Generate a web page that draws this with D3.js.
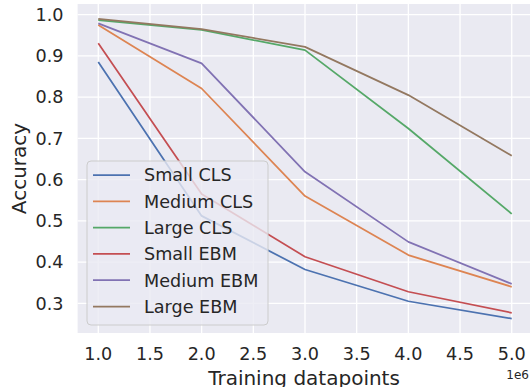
<!DOCTYPE html>
<meta charset="utf-8">
<title>Accuracy vs training datapoints</title>
<style>
    body {
        margin: 0;
        background: #fff;
    }

    text {
        font-family: "DejaVu Sans", sans-serif;
        fill: #262626;
    }
</style>
<body>
<script src="https://cdn.jsdelivr.net/npm/d3@7"></script>
<script>
    var datapoints = [1e6, 2e6, 3e6, 4e6, 5e6];
    var seriesNames = ["Small CLS", "Medium CLS", "Large CLS", "Small EBM", "Medium EBM", "Large EBM"];
    var smallCls = [0.885, 0.512, 0.382, 0.305, 0.263];
    var mediumCls = [0.975, 0.821, 0.560, 0.417, 0.340];
    var largeCls = [0.987, 0.963, 0.914, 0.724, 0.517];
    var smallEbm = [0.931, 0.565, 0.413, 0.328, 0.277];
    var mediumEbm = [0.979, 0.882, 0.619, 0.449, 0.347];
    var largeEbm = [0.990, 0.965, 0.922, 0.805, 0.658];
    var colors = ["#4c72b0", "#dd8452", "#55a868", "#c44e52", "#8172b3", "#937860"];
    var xTicks = [1e6, 1.5e6, 2e6, 2.5e6, 3e6, 3.5e6, 4e6, 4.5e6, 5e6];
    var yTicks = [0.3, 0.4, 0.5, 0.6, 0.7, 0.8, 0.9, 1.0];

    var series = [smallCls, mediumCls, largeCls, smallEbm, mediumEbm, largeEbm];

    var W = 530, H = 387;
    var fs = 17.6; // ticks + legend
    var labelFs = 20; // axis labels

    var x = d3.scaleLinear().domain([0.8e6, 5.2e6]).range([77.6, 532.4]);
    var y = d3.scaleLinear().domain([0.3, 1.0]).range([303.3, 14.7]);
    var plotTop = 4, plotBottom = 333;

    var svg = d3.select("body").append("svg")
        .attr("width", W)
        .attr("height", H);

    svg.append("rect")
        .attr("x", x.range()[0])
        .attr("y", plotTop)
        .attr("width", x.range()[1] - x.range()[0])
        .attr("height", plotBottom - plotTop)
        .attr("fill", "#eaeaf2");

    // grid
    svg.append("g").selectAll("line")
        .data(xTicks)
        .enter()
        .append("line")
        .attr("x1", function (d) { return x(d); })
        .attr("x2", function (d) { return x(d); })
        .attr("y1", plotTop)
        .attr("y2", plotBottom)
        .attr("stroke", "#fff")
        .attr("stroke-width", 1.3);

    svg.append("g").selectAll("line")
        .data(yTicks)
        .enter()
        .append("line")
        .attr("x1", x.range()[0])
        .attr("x2", x.range()[1])
        .attr("y1", function (d) { return y(d); })
        .attr("y2", function (d) { return y(d); })
        .attr("stroke", "#fff")
        .attr("stroke-width", 1.3);

    // tick labels
    svg.append("g").selectAll("text")
        .data(xTicks)
        .enter()
        .append("text")
        .attr("x", function (d) { return x(d); })
        .attr("y", 360)
        .attr("text-anchor", "middle")
        .style("font-size", fs + "px")
        .text(function (d) { return (d / 1e6).toFixed(1); });

    svg.append("g").selectAll("text")
        .data(yTicks)
        .enter()
        .append("text")
        .attr("x", 63.5)
        .attr("y", function (d) { return y(d); })
        .attr("dy", "0.36em")
        .attr("text-anchor", "end")
        .style("font-size", fs + "px")
        .text(function (d) { return d.toFixed(1); });

    svg.append("text")
        .attr("x", 529)
        .attr("y", 379)
        .attr("text-anchor", "end")
        .style("font-size", "12px")
        .text("1e6");

    svg.append("text")
        .attr("x", x(3e6) - 1)
        .attr("y", 384.5)
        .attr("text-anchor", "middle")
        .style("font-size", labelFs + "px")
        .text("Training datapoints");

    svg.append("text")
        .attr("transform", "translate(25.5,168.5) rotate(-90)")
        .attr("text-anchor", "middle")
        .style("font-size", labelFs + "px")
        .text("Accuracy");

    // lines
    var line = d3.line()
        .x(function (d, i) { return x(datapoints[i]); })
        .y(function (d) { return y(d); });

    svg.append("g").selectAll("path")
        .data(series)
        .enter()
        .append("path")
        .attr("d", line)
        .attr("fill", "none")
        .attr("stroke", function (d, i) { return colors[i]; })
        .attr("stroke-width", 1.75)
        .attr("stroke-linejoin", "round");

    // legend
    var lg = svg.append("g");
    lg.append("rect")
        .attr("x", 87)
        .attr("y", 161)
        .attr("width", 181)
        .attr("height", 164)
        .attr("rx", 4)
        .attr("fill", "#eaeaf2")
        .attr("fill-opacity", 0.8)
        .attr("stroke", "#cccccc")
        .attr("stroke-width", 1);

    var item = lg.selectAll("g.item")
        .data(seriesNames)
        .enter()
        .append("g")
        .attr("class", "item")
        .attr("transform", function (d, i) { return "translate(0," + (175 + i * 26.3) + ")"; });

    item.append("line")
        .attr("x1", 93)
        .attr("x2", 130)
        .attr("stroke", function (d, i) { return colors[i]; })
        .attr("stroke-width", 1.75);

    item.append("text")
        .attr("x", 144)
        .attr("dy", "0.36em")
        .style("font-size", fs + "px")
        .text(function (d) { return d; });
</script>
